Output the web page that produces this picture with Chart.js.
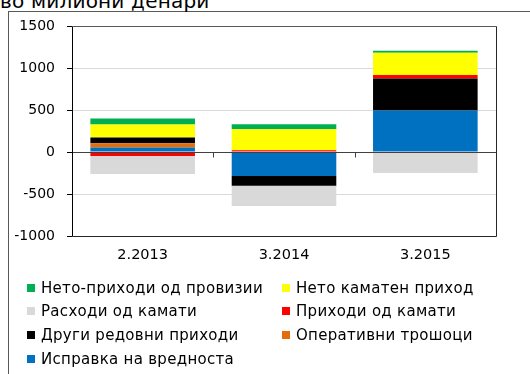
<!DOCTYPE html>
<html>
<head>
<meta charset="utf-8">
<script src="https://cdn.jsdelivr.net/npm/chart.js@4/dist/chart.umd.min.js"></script>
<style>
  html, body { margin: 0; padding: 0; background: #fff; overflow: hidden; }
  body { width: 530px; height: 374px; position: relative; font-family: 'DejaVu Sans', Verdana, sans-serif; color: #000; }
  #title { position: absolute; left: 0; top: -9px; font-size: 20px; line-height: 20px; white-space: nowrap; letter-spacing: 0.2px; }
  #frame { position: absolute; left: 8px; top: 11px; width: 600px; height: 500px;
           border-left: 1px solid #595959; border-top: 1px solid #595959; }
  #wrap { position: absolute; left: 0; top: 0; width: 530px; height: 272px; }
  #legend { position: absolute; left: 0; top: 0; width: 530px; height: 374px; pointer-events: none; }
  .item { position: absolute; height: 16px; line-height: 16px; font-size: 15px; letter-spacing: 0.3px; white-space: nowrap; }
  .box { position: absolute; left: 0; top: 4px; width: 8px; height: 8px; }
  .lbl { position: absolute; left: 14px; top: 0; }
</style>
</head>
<body>
<div id="frame"></div>
<div id="title">во милиони денари</div>
<div id="wrap"><canvas id="c"></canvas></div>
<div id="legend"></div>
<script>
// Categories and series (million denars)
const categories = ['2.2013', '3.2014', '3.2015'];
const impairment = [55, -286, 495];          // Исправка на вредноста
const operatingCosts = [50, 0, -8];          // Оперативни трошоци
const otherIncome = [68, -115, 381];         // Други редовни приходи
const interestIncome = [-48, 20, 40];        // Приходи од камати
const interestExpense = [-214, -242, -243];  // Расходи од камати
const netInterest = [155, 250, 265];         // Нето каматен приход
const netFees = [71, 60, 24];                // Нето-приходи од провизии
const yTicks = [-1000, -500, 0, 500, 1000, 1500];

const FONT = "'DejaVu Sans', Verdana, sans-serif";

const datasets = [
  { label: 'Исправка на вредноста', data: impairment, backgroundColor: '#0070c0' },
  { label: 'Оперативни трошоци', data: operatingCosts, backgroundColor: '#e46c0a' },
  { label: 'Други редовни приходи', data: otherIncome, backgroundColor: '#000000' },
  { label: 'Приходи од камати', data: interestIncome, backgroundColor: '#ff0000' },
  { label: 'Расходи од камати', data: interestExpense, backgroundColor: '#d9d9d9' },
  { label: 'Нето каматен приход', data: netInterest, backgroundColor: '#ffff00' },
  { label: 'Нето-приходи од провизии', data: netFees, backgroundColor: '#00b050' }
].map(d => Object.assign(d, { borderWidth: 0, categoryPercentage: 1, barPercentage: 0.74 }));

// Axis lines, zero line, category tick marks and plot frame drawn over the bars
const framePlugin = {
  id: 'frame',
  afterDatasetsDraw(chart) {
    const { ctx, chartArea: a, scales } = chart;
    const y0 = Math.round(scales.y.getPixelForValue(0)) + 0.5;
    const L = Math.round(a.left) + 0.5, R = Math.round(a.right) + 0.5;
    const T = Math.round(a.top) + 0.5, B = Math.round(a.bottom) + 0.5;
    ctx.save();
    ctx.lineWidth = 1;
    // zero line
    ctx.strokeStyle = '#404040';
    ctx.beginPath(); ctx.moveTo(L, y0); ctx.lineTo(R, y0); ctx.stroke();
    // tick marks between categories
    const xs = scales.x;
    for (let i = 1; i < categories.length; i++) {
      const x = Math.round((xs.getPixelForTick(i - 1) + xs.getPixelForTick(i)) / 2) + 0.5;
      ctx.beginPath(); ctx.moveTo(x, y0); ctx.lineTo(x, y0 + 5); ctx.stroke();
    }
    // plot frame
    ctx.strokeStyle = '#595959';
    ctx.beginPath(); ctx.moveTo(L, T); ctx.lineTo(R, T); ctx.stroke();
    ctx.strokeStyle = '#262626';
    ctx.beginPath(); ctx.moveTo(R, T); ctx.lineTo(R, B); ctx.lineTo(L, B); ctx.stroke();
    ctx.strokeStyle = '#000';
    ctx.beginPath(); ctx.moveTo(L, T); ctx.lineTo(L, B); ctx.stroke();
    ctx.restore();
  }
};

const chart = new Chart(document.getElementById('c'), {
  type: 'bar',
  data: { labels: categories, datasets },
  options: {
    responsive: true,
    maintainAspectRatio: false,
    animation: false,
    layout: { padding: { top: 26, right: 34, left: 0, bottom: 0 } },
    plugins: { legend: { display: false }, tooltip: { enabled: false }, title: { display: false } },
    scales: {
      x: {
        stacked: true,
        grid: { display: false, drawTicks: false },
        border: { display: false },
        ticks: { color: '#000', font: { family: FONT, size: 14.5 }, padding: 11, maxRotation: 0 },
        afterFit(s) { s.height = 36; }
      },
      y: {
        stacked: true,
        min: -1000, max: 1500,
        afterBuildTicks(s) { s.ticks = yTicks.map(v => ({ value: v })); },
        grid: {
          color: ctx => (ctx.tick && ctx.tick.value === 0) ? '#404040' : '#d9d9d9',
          tickColor: '#000', tickLength: 5, lineWidth: 1
        },
        border: { display: false },
        ticks: { color: '#000', font: { family: FONT, size: 14 }, padding: 12, callback: v => String(v) },
        afterFit(s) { s.width = 72; }
      }
    }
  },
  plugins: [framePlugin]
});

// Two-column legend, listed from the top of the stack down
const legend = document.getElementById('legend');
const rowY = [287.5, 311.4, 335.4, 359.3];
const colX = [27, 282];
datasets.slice().reverse().forEach((d, k) => {
  const item = document.createElement('div');
  item.className = 'item';
  item.style.left = colX[k % 2] + 'px';
  item.style.top = (rowY[Math.floor(k / 2)] - 8) + 'px';
  item.innerHTML = '<span class="box" style="background:' + d.backgroundColor + '"></span><span class="lbl"></span>';
  item.querySelector('.lbl').textContent = d.label;
  legend.appendChild(item);
});
</script>
</body>
</html>
